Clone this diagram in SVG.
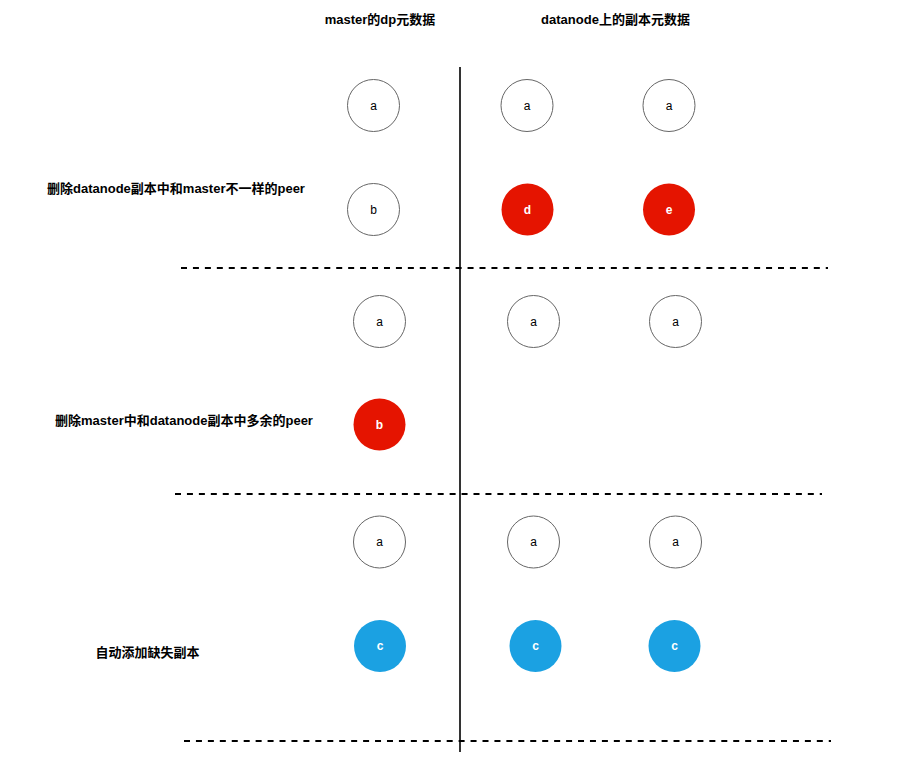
<svg xmlns="http://www.w3.org/2000/svg" width="918" height="761" viewBox="0 0 918 761">
<style>
.bg{fill:#ffffff}
.w{fill:#ffffff;stroke:#666666;stroke-width:1}
.r{fill:#e51400;stroke:none}
.b{fill:#1ba1e2;stroke:none}
.t{font-family:"Liberation Sans","Noto Sans CJK SC",sans-serif;font-size:12px;text-anchor:middle;dominant-baseline:central}
.tw{fill:#000000}
.tf{fill:#ffffff;font-weight:bold}
.lbl{font-family:"Liberation Sans","Noto Sans CJK SC",sans-serif;font-size:13px;font-weight:bold;text-anchor:middle;dominant-baseline:central;fill:#000000}
.dash{stroke:#000000;stroke-width:2;stroke-dasharray:6 5.94;fill:none}
.vline{stroke:#333333;stroke-width:2;fill:none}
</style>
<rect class="bg" x="0" y="0" width="918" height="761"/>
<g id="connectors">
<line class="vline" x1="460" y1="67" x2="460" y2="752"/>
<line class="dash" x1="181" y1="268" x2="828" y2="268"/>
<line class="dash" x1="175" y1="494" x2="822" y2="494"/>
<line class="dash" x1="184" y1="741" x2="831" y2="741"/>
</g>
<g id="headers">
<text class="lbl" x="380" y="19">master的dp元数据</text>
<text class="lbl" x="615.5" y="19">datanode上的副本元数据</text>
</g>
<g id="labels">
<text class="lbl" x="176" y="188">删除datanode副本中和master不一样的peer</text>
<text class="lbl" x="184" y="420">删除master中和datanode副本中多余的peer</text>
<text class="lbl" x="147.5" y="652">自动添加缺失副本</text>
</g>
<g id="s1-m-a"><circle class="w" cx="373.5" cy="105.5" r="26"/><text class="t tw" x="373.5" y="105.5">a</text></g>
<g id="s1-d1-a"><circle class="w" cx="527" cy="105.5" r="26"/><text class="t tw" x="527" y="105.5">a</text></g>
<g id="s1-d2-a"><circle class="w" cx="669" cy="105.5" r="26"/><text class="t tw" x="669" y="105.5">a</text></g>
<g id="s1-m-b"><circle class="w" cx="373.5" cy="209.5" r="26"/><text class="t tw" x="373.5" y="209.5">b</text></g>
<g id="s1-d1-d"><circle class="r" cx="527.5" cy="209.5" r="26"/><text class="t tf" x="527.5" y="209.5">d</text></g>
<g id="s1-d2-e"><circle class="r" cx="669" cy="209.5" r="26"/><text class="t tf" x="669" y="209.5">e</text></g>
<g id="s2-m-a"><circle class="w" cx="379.5" cy="321.5" r="26"/><text class="t tw" x="379.5" y="321.5">a</text></g>
<g id="s2-d1-a"><circle class="w" cx="533.5" cy="321.5" r="26"/><text class="t tw" x="533.5" y="321.5">a</text></g>
<g id="s2-d2-a"><circle class="w" cx="675.5" cy="321.5" r="26"/><text class="t tw" x="675.5" y="321.5">a</text></g>
<g id="s2-m-b"><circle class="r" cx="379.5" cy="424.5" r="26"/><text class="t tf" x="379.5" y="424.5">b</text></g>
<g id="s3-m-a"><circle class="w" cx="379.5" cy="542" r="26"/><text class="t tw" x="379.5" y="542">a</text></g>
<g id="s3-d1-a"><circle class="w" cx="533.5" cy="542" r="26"/><text class="t tw" x="533.5" y="542">a</text></g>
<g id="s3-d2-a"><circle class="w" cx="675.5" cy="542" r="26"/><text class="t tw" x="675.5" y="542">a</text></g>
<g id="s3-m-c"><circle class="b" cx="380" cy="646" r="26"/><text class="t tf" x="380" y="646">c</text></g>
<g id="s3-d1-c"><circle class="b" cx="535.5" cy="646" r="26"/><text class="t tf" x="535.5" y="646">c</text></g>
<g id="s3-d2-c"><circle class="b" cx="674.5" cy="646" r="26"/><text class="t tf" x="674.5" y="646">c</text></g>
</svg>
